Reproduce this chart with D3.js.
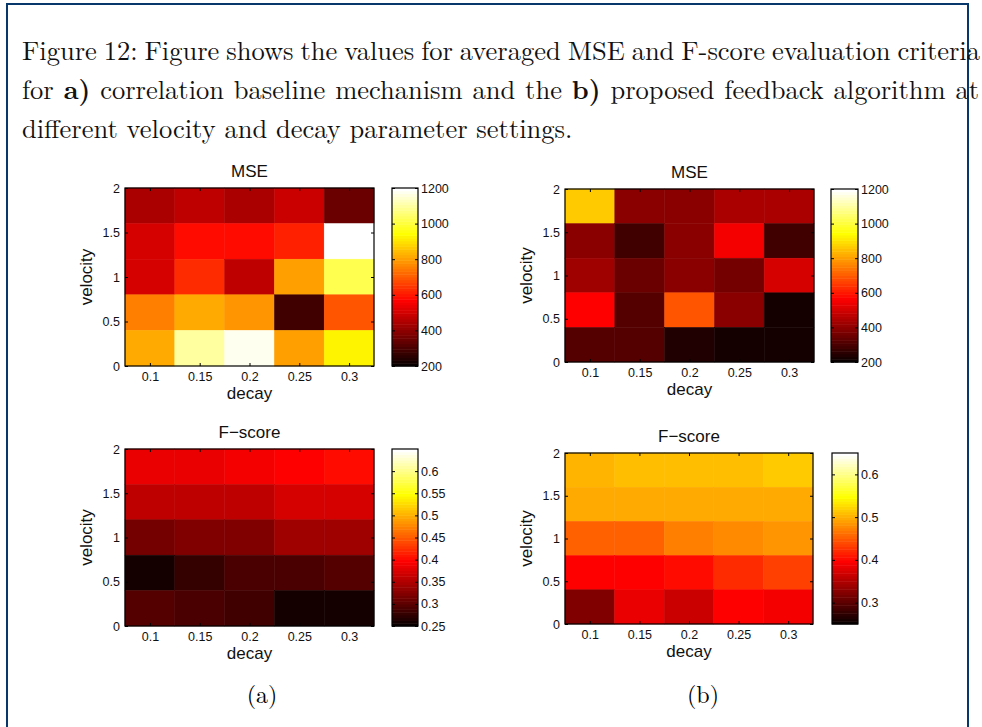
<!DOCTYPE html>
<html>
<head>
<meta charset='utf-8'>
<script src='https://d3js.org/d3.v7.min.js'></script>
<style>
body { margin: 0; background: #fff; }
</style>
</head>
<body>
<div id="my_dataviz"></div>
<script>
// decay values (columns) and velocity values (rows, bottom to top)
var decay = [0.1, 0.15, 0.2, 0.25, 0.3];
var velocity = [0.2, 0.6, 1.0, 1.4, 1.8];
var decayTicks = [0.1, 0.15, 0.2, 0.25, 0.3];
var velocityTicks = [0, 0.5, 1, 1.5, 2];

// rows listed top (velocity 1.8) to bottom (velocity 0.2)
var mseBaseline = [
  [435, 470, 447, 494, 341],
  [500, 580, 580, 612, 1200],
  [506, 637, 481, 804, 1028],
  [762, 811, 781, 288, 691],
  [811, 1100, 1170, 800, 927]
];
var fscoreBaseline = [
  [0.382, 0.386, 0.390, 0.400, 0.405],
  [0.358, 0.358, 0.362, 0.372, 0.372],
  [0.316, 0.320, 0.325, 0.340, 0.340],
  [0.262, 0.278, 0.288, 0.292, 0.297],
  [0.297, 0.288, 0.283, 0.258, 0.258]
];
var mseFeedback = [
  [870, 388, 388, 447, 447],
  [400, 282, 388, 552, 282],
  [424, 341, 400, 358, 500],
  [560, 318, 691, 388, 223],
  [318, 313, 235, 223, 223]
];
var fscoreFeedback = [
  [0.503, 0.508, 0.508, 0.512, 0.518],
  [0.494, 0.494, 0.498, 0.498, 0.498],
  [0.452, 0.456, 0.470, 0.480, 0.485],
  [0.400, 0.400, 0.402, 0.424, 0.433],
  [0.325, 0.382, 0.368, 0.400, 0.390]
];

var mseRange = [200, 1200];
var fscoreRange = [0.25, 0.65];
var mseTicks = [200, 400, 600, 800, 1000, 1200];
var fscoreTicksA = [0.25, 0.3, 0.35, 0.4, 0.45, 0.5, 0.55, 0.6];
var fscoreTicksB = [0.3, 0.4, 0.5, 0.6];

var captionLines = [
  [{t: 'Figure 12: Figure shows the values for averaged MSE and F-score evaluation criteria'}],
  [{t: 'for '}, {t: 'a)', b: true}, {t: ' correlation baseline mechanism and the '}, {t: 'b)', b: true}, {t: ' proposed feedback algorithm at'}],
  [{t: 'different velocity and decay parameter settings.'}]
];

// matlab hot(64)
function hot(i) {
  var r = i < 24 ? (i + 1) / 24 : 1;
  var g = i < 24 ? 0 : (i < 48 ? (i - 23) / 24 : 1);
  var b = i < 48 ? 0 : (i - 47) / 16;
  return d3.rgb(r * 255, g * 255, b * 255).toString();
}

var svg = d3.select('#my_dataviz')
  .append('svg')
  .attr('width', 982)
  .attr('height', 727);

// frame
svg.append('path')
  .attr('d', 'M7,727 L7,4 L968,4 L968,727')
  .attr('fill', 'none')
  .attr('stroke', '#08386b')
  .attr('stroke-width', 2);

// caption
var serif = "'Latin Modern Roman', 'CMU Serif', 'Liberation Serif', serif";
captionLines.forEach(function(parts, i) {
  var t = svg.append('text')
    .attr('x', 22)
    .attr('y', 60 + i * 39)
    .style('font-family', serif)
    .style('font-size', '26.5px')
    .attr('fill', '#111');
  parts.forEach(function(p) {
    t.append('tspan').text(p.t).style('font-weight', p.b ? 'bold' : 'normal');
  });
  if (i < 2) {
    var full = parts.map(function(p) { return p.t; }).join('');
    var spaces = full.split(' ').length - 1;
    var len = t.node().getComputedTextLength();
    var target = i == 0 ? 958 : 957;
    t.style('word-spacing', ((target - len) / spaces) + 'px');
  }
});

svg.append('text').attr('x', 262).attr('y', 703).attr('text-anchor', 'middle')
  .style('font-family', serif).style('font-size', '24px').text('(a)');
svg.append('text').attr('x', 703).attr('y', 703).attr('text-anchor', 'middle')
  .style('font-family', serif).style('font-size', '24px').text('(b)');

var panels = [
  {data: mseBaseline, title: 'MSE', range: mseRange, ticks: mseTicks, x0: 125, x1: 374, y0: 188, y1: 366, c0: 392, c1: 418},
  {data: mseFeedback, title: 'MSE', range: mseRange, ticks: mseTicks, x0: 565, x1: 814, y0: 189, y1: 362, c0: 831, c1: 858},
  {data: fscoreBaseline, title: 'F\u2212score', range: fscoreRange, ticks: fscoreTicksA, x0: 125, x1: 374, y0: 449, y1: 626, c0: 392, c1: 418},
  {data: fscoreFeedback, title: 'F\u2212score', range: fscoreRange, ticks: fscoreTicksB, x0: 565, x1: 813, y0: 453, y1: 624, c0: 832, c1: 858}
];

var sans = "'Liberation Sans', Arial, Helvetica, sans-serif";

panels.forEach(function(p) {
  var x = d3.scaleLinear().domain([0.075, 0.325]).range([p.x0, p.x1]);
  var y = d3.scaleLinear().domain([0, 2]).range([p.y1, p.y0]);
  var level = d3.scaleLinear().domain(p.range).range([0, 63.999]).clamp(true);
  var color = function(v) { return hot(Math.floor(level(v))); };

  var cells = [];
  p.data.forEach(function(row, r) {
    row.forEach(function(v, c) {
      cells.push({d: decay[c], vel: velocity[4 - r], v: v});
    });
  });

  var g = svg.append('g');
  g.selectAll('rect.cell')
    .data(cells)
    .enter()
    .append('rect')
    .attr('class', 'cell')
    .attr('x', function(d) { return x(d.d - 0.025); })
    .attr('y', function(d) { return y(d.vel + 0.2); })
    .attr('width', function(d) { return x(d.d + 0.025) - x(d.d - 0.025); })
    .attr('height', function(d) { return y(d.vel - 0.2) - y(d.vel + 0.2); })
    .attr('fill', function(d) { return color(d.v); })
    .attr('stroke', function(d) { return color(d.v); })
    .attr('stroke-width', 0.5);

  // axes, ticks inward on all sides
  var bottom = g.append('g').attr('transform', 'translate(0,' + p.y1 + ')')
    .call(d3.axisBottom(x).tickValues(decayTicks).tickSizeInner(-3).tickSizeOuter(0).tickPadding(6).tickFormat(d3.format('')));
  var top = g.append('g').attr('transform', 'translate(0,' + p.y0 + ')')
    .call(d3.axisTop(x).tickValues(decayTicks).tickSizeInner(-3).tickSizeOuter(0).tickFormat(''));
  var left = g.append('g').attr('transform', 'translate(' + p.x0 + ',0)')
    .call(d3.axisLeft(y).tickValues(velocityTicks).tickSizeInner(-3).tickSizeOuter(0).tickPadding(5).tickFormat(d3.format('')));
  var right = g.append('g').attr('transform', 'translate(' + p.x1 + ',0)')
    .call(d3.axisRight(y).tickValues(velocityTicks).tickSizeInner(-3).tickSizeOuter(0).tickFormat(''));
  [bottom, top, left, right].forEach(function(a) {
    a.select('.domain').remove();
    a.selectAll('line').attr('stroke', '#000');
    a.selectAll('text').style('font-family', sans).style('font-size', '12.5px').attr('fill', '#111');
  });
  g.append('rect')
    .attr('x', p.x0).attr('y', p.y0)
    .attr('width', p.x1 - p.x0).attr('height', p.y1 - p.y0)
    .attr('fill', 'none').attr('stroke', '#000').attr('stroke-width', 1.2);

  g.append('text')
    .attr('x', (p.x0 + p.x1) / 2).attr('y', p.y0 - 11)
    .attr('text-anchor', 'middle')
    .style('font-family', sans).style('font-size', '17px')
    .attr('fill', '#111')
    .text(p.title);
  g.append('text')
    .attr('x', (p.x0 + p.x1) / 2).attr('y', p.y1 + 33)
    .attr('text-anchor', 'middle')
    .style('font-family', sans).style('font-size', '17px')
    .attr('fill', '#111')
    .text('decay');
  g.append('text')
    .attr('transform', 'translate(' + (p.x0 - 33) + ',' + ((p.y0 + p.y1) / 2) + ') rotate(-90)')
    .attr('text-anchor', 'middle')
    .style('font-family', sans).style('font-size', '17px')
    .attr('fill', '#111')
    .text('velocity');

  // colorbar
  var cy = d3.scaleLinear().domain(p.range).range([p.y1, p.y0]);
  var steps = d3.range(64);
  var step = (p.range[1] - p.range[0]) / 64;
  g.selectAll('rect.cb')
    .data(steps)
    .enter()
    .append('rect')
    .attr('class', 'cb')
    .attr('x', p.c0)
    .attr('y', function(i) { return cy(p.range[0] + (i + 1) * step); })
    .attr('width', p.c1 - p.c0)
    .attr('height', function(i) { return cy(p.range[0] + i * step) - cy(p.range[0] + (i + 1) * step) + 0.5; })
    .attr('fill', function(i) { return hot(i); });
  var cbr = g.append('g').attr('transform', 'translate(' + p.c1 + ',0)')
    .call(d3.axisRight(cy).tickValues(p.ticks).tickSizeInner(-3).tickSizeOuter(0).tickPadding(3).tickFormat(d3.format('')));
  var cbl = g.append('g').attr('transform', 'translate(' + p.c0 + ',0)')
    .call(d3.axisLeft(cy).tickValues(p.ticks).tickSizeInner(-3).tickSizeOuter(0).tickFormat(''));
  [cbr, cbl].forEach(function(a) {
    a.select('.domain').remove();
    a.selectAll('line').attr('stroke', '#000');
    a.selectAll('text').style('font-family', sans).style('font-size', '12.5px').attr('fill', '#111');
  });
  g.append('rect')
    .attr('x', p.c0).attr('y', p.y0)
    .attr('width', p.c1 - p.c0).attr('height', p.y1 - p.y0)
    .attr('fill', 'none').attr('stroke', '#000').attr('stroke-width', 1.2);
});
</script>
</body>
</html>
